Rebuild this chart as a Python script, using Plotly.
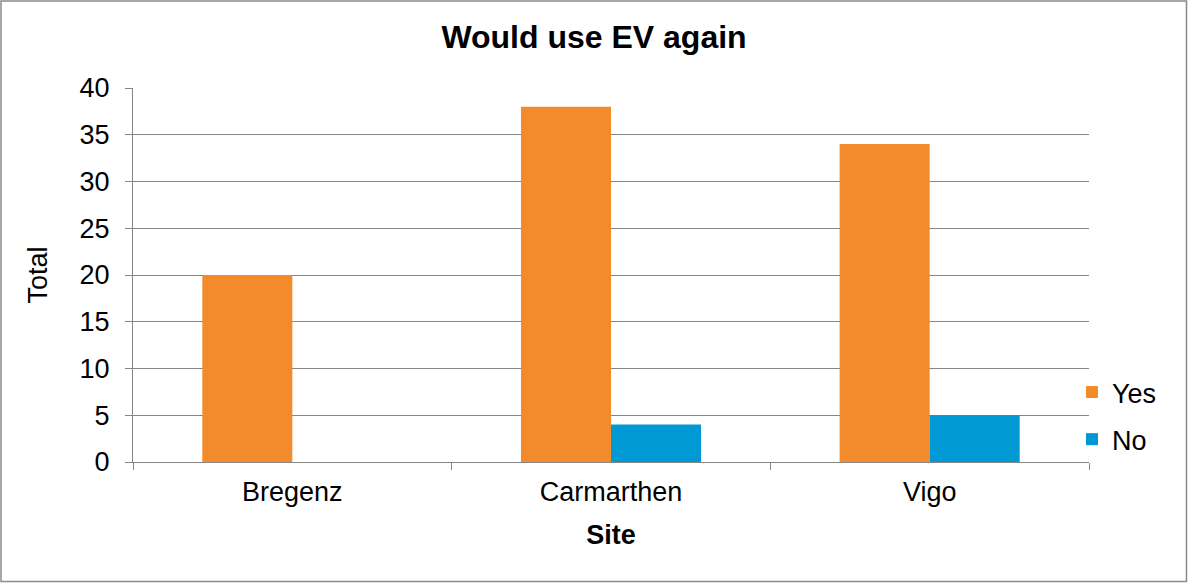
import plotly.graph_objects as go

sites = ["Bregenz", "Carmarthen", "Vigo"]
yes_values = [20, 38, 34]
no_values = [0, 4, 5]
y_ticks = [0, 5, 10, 15, 20, 25, 30, 35, 40]

W, H = 1188, 583
ML, MR, MT, MB = 133, 99, 88, 121
PW, PH = W - ML - MR, H - MT - MB

FONT = "Liberation Sans, Arial, sans-serif"
GRID = "#868686"
FS = 27

fig = go.Figure()
fig.add_trace(go.Bar(x=sites, y=yes_values, name="Yes", marker_color="#F38A2C",
                     marker_line_width=0, legendgroup="yes"))
fig.add_trace(go.Bar(x=sites, y=no_values, name="No", marker_color="#0099D4",
                     marker_line_width=0, legendgroup="no"))

def px_x(p):
    return (p - ML) / PW

def px_y(p):
    return (H - MB - p) / PH

fig.update_layout(
    width=W, height=H,
    margin=dict(l=ML, r=MR, t=MT, b=MB, autoexpand=False),
    paper_bgcolor="white", plot_bgcolor="white",
    font=dict(family=FONT, size=FS, color="black"),
    title=dict(text="<b>Would use EV again</b>", x=0.5, xref="container", xanchor="center",
               y=1 - 37 / H, yref="container", yanchor="middle",
               font=dict(size=32, family=FONT, color="black")),
    barmode="group", bargap=0.435, bargroupgap=0,
    showlegend=True,
    legend=dict(x=px_x(1072), xanchor="left", y=px_y(368), yanchor="top",
                font=dict(size=FS, family=FONT, color="black"),
                tracegroupgap=9, bgcolor="rgba(0,0,0,0)", traceorder="grouped"),
    xaxis=dict(type="category", range=[-0.5, 2.5], showline=True, linecolor=GRID, linewidth=1,
               ticks="outside", ticklen=7, tickcolor=GRID, tickwidth=1, tickson="boundaries",
               showgrid=False, tickfont=dict(size=FS, color="black"), ticklabelstandoff=6,
               title=dict(text="<b>Site</b>", font=dict(size=FS, color="black"), standoff=18)),
    yaxis=dict(range=[0, 40], tickvals=y_ticks, showline=True, linecolor=GRID, linewidth=1,
               ticks="outside", ticklen=7, tickcolor=GRID, tickwidth=1,
               showgrid=True, gridcolor=GRID, gridwidth=1, zeroline=False,
               tickfont=dict(size=FS, color="black"), ticklabelstandoff=10,
               title=dict(text="Total", font=dict(size=FS, color="black"), standoff=24)),
    shapes=[dict(type="rect", xref="paper", yref="paper",
                 x0=px_x(1), x1=px_x(W - 1.5), y0=px_y(H - 1.5), y1=px_y(1),
                 line=dict(color="#8a8a8a", width=1.5), fillcolor="rgba(0,0,0,0)", layer="above")],
)

fig.write_html("out.html")
